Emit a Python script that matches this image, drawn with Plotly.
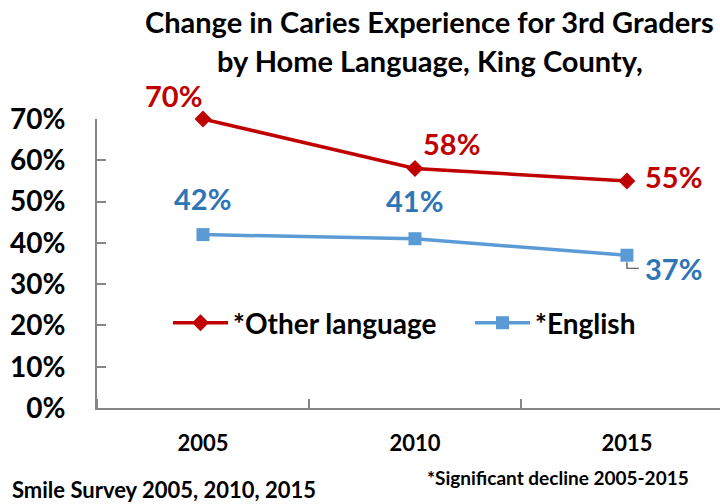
import plotly.graph_objects as go

# Survey years and caries-experience rates by home language
years = ["2005", "2010", "2015"]
other_language = [0.70, 0.58, 0.55]
english = [0.42, 0.41, 0.37]
y_ticks = [0.0, 0.1, 0.2, 0.3, 0.4, 0.5, 0.6, 0.7]

RED = "#C00000"
BLUE_LINE = "#5B9BD5"
BLUE_TEXT = "#2E75B6"
AXIS = "#868686"
FONT = "Lato"

xpos = list(range(len(years)))

fig = go.Figure()
fig.add_trace(go.Scatter(
    x=xpos, y=other_language, mode="lines+markers", name="*Other language",
    line=dict(color=RED, width=3.5),
    marker=dict(symbol="diamond", size=13, color=RED),
    cliponaxis=False, legend="legend", showlegend=True,
))
fig.add_trace(go.Scatter(
    x=xpos, y=english, mode="lines+markers", name="*English",
    line=dict(color=BLUE_LINE, width=3.5),
    marker=dict(symbol="square", size=13, color=BLUE_LINE),
    cliponaxis=False, legend="legend2", showlegend=True,
))

# Value labels: pixel offsets from each point
label_offsets_other = [(-29, 24), (37, 25), (47, 4)]
label_offsets_eng = [(0, 36), (0, 38), (47, -13)]
annotations = []
for i, v in enumerate(other_language):
    dx, dy = label_offsets_other[i]
    annotations.append(dict(x=i, y=v, xref="x", yref="y", text=f"{round(v*100)}%",
                            showarrow=False, xshift=dx, yshift=dy,
                            font=dict(family=FONT, size=29, color=RED, weight="bold")))
for i, v in enumerate(english):
    dx, dy = label_offsets_eng[i]
    annotations.append(dict(x=i, y=v, xref="x", yref="y", text=f"{round(v*100)}%",
                            showarrow=False, xshift=dx, yshift=dy,
                            font=dict(family=FONT, size=29, color=BLUE_TEXT, weight="bold")))

# Title lines
annotations.append(dict(x=0.5345, y=1.336, xref="paper", yref="paper",
                        text="Change in Caries Experience for 3rd Graders", showarrow=False,
                        xanchor="center", yanchor="middle",
                        font=dict(family=FONT, size=29, color="black", weight="bold")))
annotations.append(dict(x=0.5345, y=1.204, xref="paper", yref="paper",
                        text="by Home Language, King County,", showarrow=False,
                        xanchor="center", yanchor="middle",
                        font=dict(family=FONT, size=29, color="black", weight="bold")))
# Footnotes
annotations.append(dict(x=-0.1396, y=-0.2837, xref="paper", yref="paper",
                        text="Smile Survey 2005, 2010, 2015", showarrow=False,
                        xanchor="left", yanchor="middle",
                        font=dict(family=FONT, size=22, color="black", weight="bold")))
annotations.append(dict(x=0.5265, y=-0.2388, xref="paper", yref="paper",
                        text="*Significant decline 2005-2015", showarrow=False,
                        xanchor="left", yanchor="middle",
                        font=dict(family=FONT, size=19, color="black", weight="bold")))

# Leader line for the last English label
shapes = [dict(type="path", xref="x", yref="y", xsizemode="pixel", ysizemode="pixel",
               xanchor=2, yanchor=english[2], path="M 0,-7 L 0,-13 L 12,-13",
               line=dict(color="#404040", width=1.2))]

legend_font = dict(family=FONT, size=28, color="black", weight="bold")
fig.update_layout(
    width=720, height=504,
    margin=dict(l=97, r=0, t=119, b=96),
    paper_bgcolor="white", plot_bgcolor="white",
    annotations=annotations, shapes=shapes,
    legend=dict(x=(168 - 97) / 623, y=(408 - 323) / 289, xanchor="left", yanchor="middle",
                orientation="h", font=legend_font, bgcolor="rgba(0,0,0,0)",
                itemwidth=55, tracegroupgap=0),
    legend2=dict(x=(470 - 97) / 623, y=(408 - 323) / 289, xanchor="left", yanchor="middle",
                 orientation="h", font=legend_font, bgcolor="rgba(0,0,0,0)",
                 itemwidth=55, tracegroupgap=0),
    xaxis=dict(range=[-0.5, 2.439], tickvals=xpos, ticktext=years, ticks="",
               showline=True, linecolor=AXIS, linewidth=2, showgrid=False, zeroline=False,
               ticklabelstandoff=15,
               minor=dict(tick0=0.5, dtick=1, ticks="inside", ticklen=9, tickcolor=AXIS,
                          tickwidth=1.5, showgrid=False),
               tickfont=dict(family=FONT, size=22, color="black", weight="bold")),
    yaxis=dict(range=[0, 0.7], tickvals=y_ticks, tickformat=".0%", ticks="inside",
               ticklen=9, tickcolor=AXIS, tickwidth=1.5,
               showline=True, linecolor=AXIS, linewidth=2, showgrid=False, zeroline=False,
               ticklabelstandoff=24,
               tickfont=dict(family=FONT, size=28, color="black", weight="bold")),
)

fig.write_html("out.html")
